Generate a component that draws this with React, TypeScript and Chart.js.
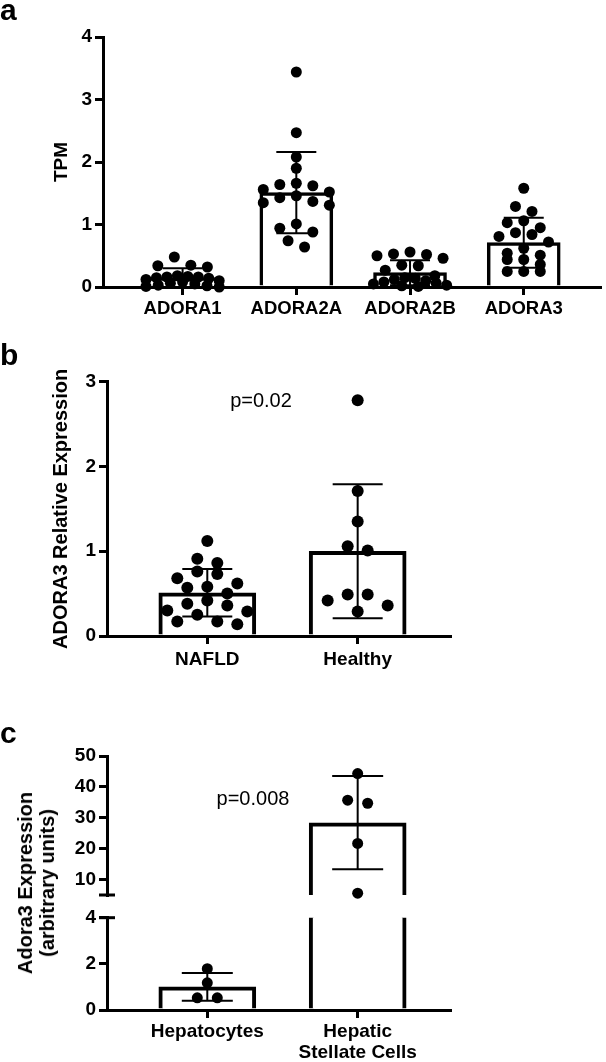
import React, { useEffect, useRef } from 'react';
import { Chart, registerables } from 'chart.js';

Chart.register(...registerables);

const FONT = "'Liberation Sans', Arial, Helvetica, sans-serif";
Chart.defaults.font.family = FONT;

// ---------- Panel a : TPM per adenosine receptor ----------
const categoriesA = ['ADORA1', 'ADORA2A', 'ADORA2B', 'ADORA3'];
const adora1 = [0.48, 0.35, 0.34, 0.32, 0.18, 0.17, 0.16, 0.16, 0.15, 0.14, 0.12, 0.10, 0.08, 0.06, 0.05, 0.03, 0.02, 0.01, 0.0];
const adora2a = [3.44, 2.47, 2.08, 1.90, 1.66, 1.64, 1.62, 1.56, 1.52, 1.46, 1.43, 1.37, 1.35, 1.31, 1.01, 0.94, 0.88, 0.74, 0.64];
const adora2b = [0.56, 0.53, 0.52, 0.50, 0.46, 0.35, 0.34, 0.27, 0.18, 0.15, 0.14, 0.12, 0.10, 0.08, 0.06, 0.05, 0.03, 0.02, 0.01];
const adora3 = [1.58, 1.29, 1.21, 1.06, 1.03, 0.95, 0.87, 0.84, 0.81, 0.72, 0.62, 0.54, 0.51, 0.44, 0.44, 0.36, 0.25, 0.25, 0.25];
const meanA = [0.15, 1.51, 0.23, 0.71];
const sdA = [0.15, 0.65, 0.20, 0.40];
const yTicksA = [0, 1, 2, 3, 4];

// ---------- Panel b : ADORA3 relative expression ----------
const groupsB = ['NAFLD', 'Healthy'];
const nafld = [1.12, 0.91, 0.86, 0.76, 0.73, 0.68, 0.62, 0.58, 0.57, 0.50, 0.42, 0.38, 0.36, 0.30, 0.29, 0.25, 0.17, 0.17, 0.14];
const healthy = [2.78, 1.71, 1.35, 1.06, 1.01, 0.49, 0.49, 0.42, 0.36, 0.29];
const meanB = [0.51, 1.0];
const sdB = [0.28, 0.79];
const yTicksB = [0, 1, 2, 3];
const pValueB = 'p=0.02';

// ---------- Panel c : Adora3 in liver cell types (broken axis) ----------
const groupsC: (string | string[])[] = ['Hepatocytes', ['Hepatic', 'Stellate Cells']];
const hepatocytes = [1.79, 1.18, 0.53, 0.53];
const stellate = [44.3, 35.7, 34.7, 21.7, 5.6];
const meanC = [1.0, 28.4];
const sdC = [0.6, 15.1];
const yTicksCLow = [0, 2, 4];
const yTicksCHigh = [10, 20, 30, 40, 50];
const pValueC = 'p=0.008';

// GraphPad-like row scatter: points within one dot height share a row, centred on the bar
function swarmOffsets(values: number[], toPx: (v: number) => number, diam: number, spacing: number, maxHalf: number, maxPerRow: number) {
  const idx = values.map((_, i) => i).sort((a, b) => values[b] - values[a]);
  const offs = new Array(values.length).fill(0);
  let i = 0;
  while (i < idx.length) {
    const row = [idx[i]];
    const top = toPx(values[idx[i]]);
    let j = i + 1;
    while (j < idx.length && Math.abs(top - toPx(values[idx[j]])) < diam && row.length < maxPerRow) {
      row.push(idx[j]);
      j++;
    }
    const n = row.length;
    let sp = spacing;
    if (n > 1 && ((n - 1) * sp) / 2 > maxHalf) sp = (2 * maxHalf) / (n - 1);
    const slots = Array.from({ length: n }, (_, k) => (k - (n - 1) / 2) * sp).sort(
      (a, b) => Math.abs(a) - Math.abs(b) || a - b
    );
    row.forEach((r, k) => (offs[r] = slots[k]));
    i = j;
  }
  return offs;
}

type Spec = {
  width: number;
  height: number;
  pad: { top: number; right: number; bottom: number; left: number };
  yWidth: number;
  xHeight: number;
  xMin: number;
  xMax: number;
  yMin: number;
  yMax: number;
  yTicks: number[];
  xLabels: (string | string[])[] | null;
  xFontSize: number;
  xPad: number;
  yTitle?: string;
  yTitleSize?: number;
  yTitleX?: number;
  groups: number[][];
  means: number[];
  sds: number[];
  barPx: number;
  barBorder: number;
  capPx: number;
  dotR: number;
  spacing: number;
  maxHalf: number;
  toPx: (v: number) => number;
  floatBase?: number;
  breaks?: number[];
  clipBars?: boolean;
};

function makeChart(canvas: HTMLCanvasElement, s: Spec) {
  const plotW = s.width - s.pad.left - s.pad.right - s.yWidth;
  const pxPerX = plotW / (s.xMax - s.xMin);
  const inRange = (v: number) => v >= s.yMin - 1e-9 && v <= s.yMax + 1e-9;

  const barData = s.means
    .map((m, i) => {
      if (s.floatBase !== undefined) return m > s.floatBase ? { x: i, y: [s.floatBase, m] } : null;
      return { x: i, y: m };
    })
    .filter((d) => d !== null);

  const pts: { x: number; y: number }[] = [];
  s.groups.forEach((vals, gi) => {
    const offs = swarmOffsets(vals, s.toPx, s.dotR * 2, s.spacing, s.maxHalf, 8);
    vals.forEach((v, k) => {
      if (inRange(v)) pts.push({ x: gi + offs[k] / pxPerX, y: v });
    });
  });

  const errPlugin = {
    id: 'errbars',
    afterDatasetDraw(chart: any, args: any) {
      if (args.meta.type !== 'bar') return;
      const { ctx, chartArea: a } = chart;
      const x = chart.scales.x;
      const y = chart.scales.y;
      ctx.save();
      ctx.beginPath();
      ctx.rect(a.left, a.top - 2, a.right - a.left, a.bottom - a.top + 4);
      ctx.clip();
      ctx.strokeStyle = '#000';
      ctx.lineWidth = 2;
      s.means.forEach((m, i) => {
        const px = x.getPixelForValue(i);
        const lo = m - s.sds[i];
        const hi = m + s.sds[i];
        ctx.beginPath();
        ctx.moveTo(px, y.getPixelForValue(lo));
        ctx.lineTo(px, y.getPixelForValue(hi));
        ctx.stroke();
        [lo, hi].forEach((v) => {
          if (v < s.yMin || v > s.yMax) return;
          const py = y.getPixelForValue(v);
          ctx.beginPath();
          ctx.moveTo(px - s.capPx / 2, py);
          ctx.lineTo(px + s.capPx / 2, py);
          ctx.stroke();
        });
      });
      ctx.restore();
    },
  };

  const breakPlugin = {
    id: 'breakmarks',
    afterDraw(chart: any) {
      const { ctx, chartArea: a } = chart;
      const y = chart.scales.y;
      (s.breaks || []).forEach((v) => {
        const py = y.getPixelForValue(v);
        ctx.save();
        ctx.strokeStyle = '#000';
        ctx.lineWidth = 3;
        ctx.beginPath();
        ctx.moveTo(a.left - 8, py);
        ctx.lineTo(a.left + 8, py);
        ctx.stroke();
        ctx.restore();
      });
    },
  };

  const yTitle = s.yTitle
    ? {
        display: true,
        text: s.yTitle,
        color: '#000',
        font: { family: FONT, size: s.yTitleSize, weight: 'bold' },
        padding: { top: (s.yTitleX || 0) - ((s.yTitleSize || 0) * 1.2) / 2, bottom: 0 },
      }
    : { display: false };

  return new Chart(canvas, {
    type: 'bar',
    data: {
      datasets: [
        {
          type: 'bar',
          data: barData as any,
          backgroundColor: '#fff',
          borderColor: '#000',
          borderWidth: s.barBorder,
          barThickness: s.barPx,
          borderSkipped: 'start',
          order: 2,
          clip: s.clipBars ? 0 : false,
        } as any,
        {
          type: 'scatter',
          data: pts,
          pointRadius: s.dotR,
          pointHoverRadius: s.dotR,
          pointBackgroundColor: '#000',
          pointBorderWidth: 0,
          showLine: false,
          order: 1,
          clip: false,
        } as any,
      ],
    },
    options: {
      responsive: false,
      animation: false,
      events: [],
      layout: { padding: s.pad },
      plugins: { legend: { display: false }, tooltip: { enabled: false } },
      scales: {
        x: {
          type: 'linear',
          display: s.xHeight > 0,
          offset: false,
          min: s.xMin,
          max: s.xMax,
          afterFit: (sc: any) => {
            sc.height = s.xHeight;
          },
          afterBuildTicks: (sc: any) => {
            sc.ticks = s.means.map((_, i) => ({ value: i }));
          },
          ticks: {
            callback: (_v: any, i: number) => (s.xLabels ? s.xLabels[i] : ''),
            color: '#000',
            font: { family: FONT, size: s.xFontSize, weight: 'bold', lineHeight: 1.1 },
            padding: s.xPad,
            autoSkip: false,
            maxRotation: 0,
            minRotation: 0,
          },
          grid: { offset: false, drawOnChartArea: false, drawTicks: true, tickLength: 8, lineWidth: 3, color: '#000' },
          border: { display: true, width: 3, color: '#000' },
        },
        y: {
          type: 'linear',
          min: s.yMin,
          max: s.yMax,
          afterFit: (sc: any) => {
            sc.width = s.yWidth;
          },
          afterBuildTicks: (sc: any) => {
            sc.ticks = s.yTicks.map((v) => ({ value: v }));
          },
          ticks: {
            callback: (v: any) => String(v),
            color: '#000',
            font: { family: FONT, size: 19, weight: 'bold' },
            padding: 3,
            autoSkip: false,
          },
          grid: { drawOnChartArea: false, drawTicks: true, tickLength: 8, lineWidth: 3, color: '#000' },
          border: { display: true, width: 3, color: '#000' },
          title: yTitle as any,
        },
      },
    } as any,
    plugins: [errPlugin, breakPlugin],
  });
}

// geometry of panel c's broken axis (pixels of each segment)
const cLowH = 92.3;
const cGap = 22.7;
const cHighH = 139;
const cToPx = (v: number) => (v <= 4.5 ? (v * cLowH) / 4 : cLowH + cGap + ((v - 5) * cHighH) / 45);

const specA: Spec = {
  width: 606, height: 320,
  pad: { top: 37, right: 0, bottom: 0, left: 0 },
  yWidth: 103, xHeight: 33,
  xMin: -0.7, xMax: 3.675,
  yMin: 0, yMax: 4, yTicks: yTicksA,
  xLabels: categoriesA, xFontSize: 18.5, xPad: 4,
  yTitle: 'TPM', yTitleSize: 19, yTitleX: 62,
  groups: [adora1, adora2a, adora2b, adora3],
  means: meanA, sds: sdA,
  barPx: 73, barBorder: 3.5, capPx: 40, dotR: 5.5,
  spacing: 16.7, maxHalf: 37,
  toPx: (v) => v * 62.5,
};

const specB: Spec = {
  width: 606, height: 360,
  pad: { top: 61.7, right: 156, bottom: 0, left: 0 },
  yWidth: 107, xHeight: 44,
  xMin: -0.667, xMax: 1.614,
  yMin: 0, yMax: 3, yTicks: yTicksB,
  xLabels: groupsB, xFontSize: 19, xPad: 5,
  yTitle: 'ADORA3 Relative Expression', yTitleSize: 20, yTitleX: 61,
  groups: [nafld, healthy],
  means: meanB, sds: sdB,
  barPx: 97, barBorder: 4, capPx: 50, dotR: 6,
  spacing: 20, maxHalf: 40,
  toPx: (v) => v * 84.8,
};

const specCLow: Spec = {
  width: 606, height: 382,
  pad: { top: 237.7, right: 156, bottom: 0, left: 0 },
  yWidth: 107, xHeight: 52,
  xMin: -0.667, xMax: 1.614,
  yMin: 0, yMax: 4, yTicks: yTicksCLow,
  xLabels: groupsC, xFontSize: 19, xPad: 3,
  groups: [hepatocytes, stellate],
  means: meanC, sds: sdC,
  barPx: 97, barBorder: 4, capPx: 51, dotR: 5.5,
  spacing: 20, maxHalf: 30,
  toPx: cToPx,
  breaks: [4],
  clipBars: true,
};

const specCHigh: Spec = {
  width: 606, height: 230,
  pad: { top: 76, right: 156, bottom: 15, left: 0 },
  yWidth: 107, xHeight: 0,
  xMin: -0.667, xMax: 1.614,
  yMin: 5, yMax: 50, yTicks: yTicksCHigh,
  xLabels: null, xFontSize: 19, xPad: 3,
  groups: [hepatocytes, stellate],
  means: meanC, sds: sdC,
  barPx: 97, barBorder: 4, capPx: 51, dotR: 5.5,
  spacing: 20, maxHalf: 30,
  toPx: cToPx,
  floatBase: 5,
  breaks: [5],
  clipBars: true,
};

const letterStyle: React.CSSProperties = {
  position: 'absolute',
  font: `bold 30px ${FONT}`,
  lineHeight: '30px',
  color: '#000',
};

const pStyle: React.CSSProperties = {
  position: 'absolute',
  font: `20px ${FONT}`,
  lineHeight: '20px',
  color: '#000',
  transform: 'translate(-50%, -50%)',
  whiteSpace: 'nowrap',
};

export default function App() {
  const ra = useRef<HTMLCanvasElement>(null);
  const rb = useRef<HTMLCanvasElement>(null);
  const rcl = useRef<HTMLCanvasElement>(null);
  const rch = useRef<HTMLCanvasElement>(null);

  useEffect(() => {
    const charts = [
      makeChart(ra.current!, specA),
      makeChart(rb.current!, specB),
      makeChart(rcl.current!, specCLow),
      makeChart(rch.current!, specCHigh),
    ];
    return () => charts.forEach((c) => c.destroy());
  }, []);

  const cv = (top: number): React.CSSProperties => ({ position: 'absolute', left: 0, top });

  return (
    <div style={{ position: 'absolute', left: 0, top: 0, width: 606, height: 1062, background: '#fff', overflow: 'hidden' }}>
      <canvas ref={ra} width={606} height={320} style={cv(0)} />
      <canvas ref={rb} width={606} height={360} style={cv(320)} />
      <canvas ref={rcl} width={606} height={382} style={cv(680)} />
      <canvas ref={rch} width={606} height={230} style={cv(680)} />
      <div style={{ ...letterStyle, left: 0, top: -5 }}>a</div>
      <div style={{ ...letterStyle, left: 0, top: 340 }}>b</div>
      <div style={{ ...letterStyle, left: 0, top: 718 }}>c</div>
      <div style={{ ...pStyle, left: 261, top: 400 }}>{pValueB}</div>
      <div style={{ ...pStyle, left: 253, top: 798 }}>{pValueC}</div>
      <div
        style={{
          position: 'absolute',
          left: 36,
          top: 883,
          transform: 'translate(-50%, -50%) rotate(-90deg)',
          font: `bold 20px ${FONT}`,
          lineHeight: '22px',
          textAlign: 'center',
          whiteSpace: 'nowrap',
          color: '#000',
        }}
      >
        <div>Adora3 Expression</div>
        <div>(arbitrary units)</div>
      </div>
    </div>
  );
}
